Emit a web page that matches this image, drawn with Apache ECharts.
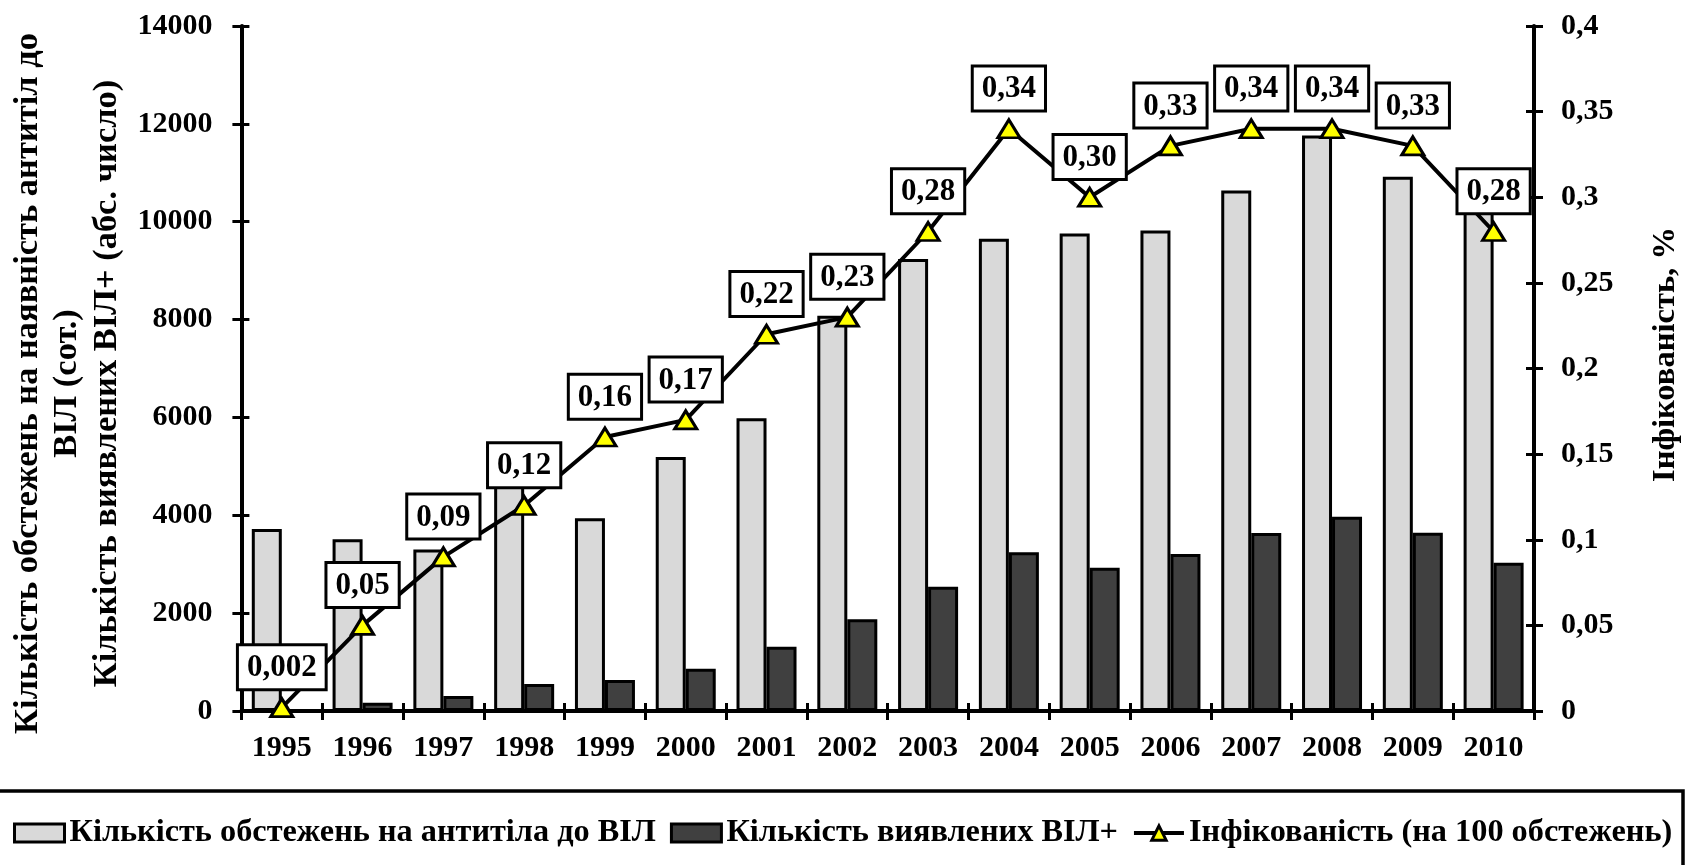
<!DOCTYPE html>
<html>
<head>
<meta charset="utf-8">
<script src="https://cdn.jsdelivr.net/npm/echarts@6/dist/echarts.min.js"></script>
<style>
html,body{margin:0;padding:0;background:#fff;}
#chart{width:1694px;height:865px;}
</style>
</head>
<body>
<div id="chart"></div>
<script>
// ---- data ----
const years = ['1995','1996','1997','1998','1999','2000','2001','2002','2003','2004','2005','2006','2007','2008','2009','2010'];
const examsCount = [3720, 3510, 3300, 4630, 3940, 5190, 5985, 8080, 9240, 9650, 9760, 9820, 10640, 11760, 10920, 10820];
const hivCount = [7, 170, 305, 550, 635, 865, 1315, 1875, 2540, 3245, 2930, 3210, 3640, 3970, 3645, 3030];
const infectionRate = [0.002, 0.05, 0.09, 0.12, 0.16, 0.17, 0.22, 0.23, 0.28, 0.34, 0.30, 0.33, 0.34, 0.34, 0.33, 0.28];
const rateLabels = ['0,002','0,05','0,09','0,12','0,16','0,17','0,22','0,23','0,28','0,34','0,30','0,33','0,34','0,34','0,33','0,28'];
const seriesNames = ['Кількість обстежень на антитіла до ВІЛ', 'Кількість виявлених ВІЛ+', 'Інфікованість (на 100 обстежень)'];
const leftTitleLines = ['Кількість обстежень на наявність антитіл до', 'ВІЛ (сот.)', 'Кількість виявлених ВІЛ+ (абс. число)'];
const rightAxisTitle = 'Інфікованість, %';

const FONT = '"Liberation Serif", "Times New Roman", serif';
const txt = {fontFamily: FONT, fontWeight: 'bold', fontSize: 30, color: '#000'};

// text sizing: the reference's Cyrillic runs wider than Liberation Serif, so fit to the reference lengths
const ctx = document.createElement('canvas').getContext('2d');
function textWidth(s, size) { ctx.font = 'bold ' + size + 'px ' + FONT; return ctx.measureText(s).width; }
const leftTitleSize = 30 * 701 / textWidth(leftTitleLines[0], 30);
const rightTitleSize = 30 * 255 / textWidth(rightAxisTitle, 30);
const legendSize = 30 * 1462 / seriesNames.reduce((a, s) => a + textWidth(s, 30), 0);

const chart = echarts.init(document.getElementById('chart'));
const grid = {left: 233, right: 151, top: 26, bottom: 154};
const fmtRight = v => (+v.toFixed(2)).toString().replace('.', ',');

chart.setOption({
  animation: false,
  backgroundColor: '#fff',
  grid: grid,
  graphic: [
    {type: 'rect', silent: true, z: 0,
     shape: {x: -4, y: 791, width: 1687, height: 120},
     style: {fill: 'none', stroke: '#000', lineWidth: 3.5}}
  ],
  legend: {
    left: 13, right: 0, top: 815, padding: 0, itemGap: 14,
    itemWidth: 50, itemHeight: 18,
    lineStyle: {width: 4, color: '#000'},
    textStyle: Object.assign({}, txt, {fontSize: legendSize, lineHeight: 36}),
    data: [
      {name: seriesNames[0], icon: 'rect', itemStyle: {color: '#d9d9d9', borderColor: '#000', borderWidth: 3}},
      {name: seriesNames[1], icon: 'rect', itemStyle: {color: '#404040', borderColor: '#000', borderWidth: 3}},
      {name: seriesNames[2], lineStyle: {color: '#000', width: 4},
       itemStyle: {color: '#ffff00', borderColor: '#000', borderWidth: 3}}
    ]
  },
  xAxis: [
    {type: 'category', data: years, position: 'bottom',
     axisLine: {show: true, lineStyle: {color: '#000', width: 4}},
     axisTick: {show: true, length: 9, lineStyle: {color: '#000', width: 3}},
     axisLabel: Object.assign({}, txt, {interval: 0, margin: 22}),
     splitLine: {show: false}},
    {type: 'category', data: years, position: 'bottom', gridIndex: 0,
     axisLine: {show: false},
     axisTick: {show: true, inside: true, length: 8, lineStyle: {color: '#000', width: 3}},
     axisLabel: {show: false}, splitLine: {show: false}}
  ],
  yAxis: [
    {type: 'value', min: 0, max: 14000, interval: 2000, position: 'left',
     name: leftTitleLines.join('\n'), nameLocation: 'middle', nameRotate: 90, nameGap: 103,
     nameTextStyle: Object.assign({}, txt, {fontSize: leftTitleSize, lineHeight: 39.5, align: 'center', padding: [0, 30, 0, 0]}),
     axisLine: {show: true, lineStyle: {color: '#000', width: 4}},
     axisTick: {show: true, length: 9, lineStyle: {color: '#000', width: 3}},
     axisLabel: Object.assign({}, txt, {margin: 29, formatter: v => String(v)}),
     splitLine: {show: false}},
    {type: 'value', min: 0, max: 0.4, interval: 0.05, position: 'right',
     name: rightAxisTitle, nameLocation: 'middle', nameRotate: 90, nameGap: 112,
     nameTextStyle: Object.assign({}, txt, {fontSize: rightTitleSize, lineHeight: 40, padding: [0, 0, 0, 28]}),
     axisLine: {show: true, lineStyle: {color: '#000', width: 4}},
     axisTick: {show: true, length: 9, lineStyle: {color: '#000', width: 3}},
     axisLabel: Object.assign({}, txt, {margin: 27, formatter: fmtRight}),
     splitLine: {show: false}},
    {type: 'value', min: 0, max: 14000, interval: 2000, position: 'left', offset: 0,
     axisLine: {show: false},
     axisTick: {show: true, inside: true, length: 8, lineStyle: {color: '#000', width: 3}},
     axisLabel: {show: false}, splitLine: {show: false}},
    {type: 'value', min: 0, max: 0.4, interval: 0.05, position: 'right', offset: 0,
     axisLine: {show: false},
     axisTick: {show: true, inside: true, length: 8, lineStyle: {color: '#000', width: 3}},
     axisLabel: {show: false}, splitLine: {show: false}}
  ],
  series: [
    {name: seriesNames[0], type: 'bar', data: examsCount, barWidth: 30, barGap: '0%',
     itemStyle: {color: '#d9d9d9', borderColor: '#000', borderWidth: 3}, z: 2},
    {name: seriesNames[1], type: 'bar', data: hivCount, barWidth: 30,
     itemStyle: {color: '#404040', borderColor: '#000', borderWidth: 3}, z: 2},
    {name: seriesNames[2], type: 'line', data: infectionRate, yAxisIndex: 1, z: 5,
     symbol: 'triangle', symbolSize: [22, 18],
     lineStyle: {color: '#000', width: 4},
     itemStyle: {color: '#ffff00', borderColor: '#000', borderWidth: 3},
     label: Object.assign({}, txt, {
       show: true, position: 'top', distance: 9, fontSize: 31,
       formatter: p => rateLabels[p.dataIndex],
       backgroundColor: '#fff', borderColor: '#000', borderWidth: 3,
       padding: [4, 8, 2, 8], lineHeight: 36
     }),
     labelLayout: {hideOverlap: false}}
  ]
});
</script>
</body>
</html>
